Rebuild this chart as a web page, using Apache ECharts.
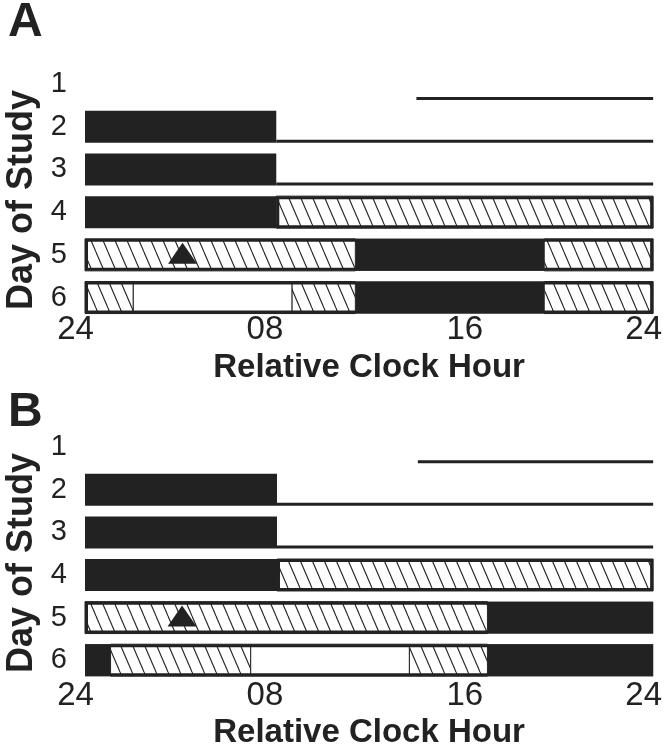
<!DOCTYPE html>
<html><head><meta charset="utf-8">
<script src="https://cdn.jsdelivr.net/npm/echarts@6/dist/echarts.min.js"></script>
<style>html,body{margin:0;padding:0;background:#fff}#c{width:665px;height:750px}</style>
</head><body><div id="c"></div>
<script>
const days = ['1','2','3','4','5','6'];
const hourLabels = ['24','08','16','24'];
const hourTicks = [0, 8, 16, 24];
// Panel A segments: [day, start hour, end hour]
const aSleep = [[2,0,8.08],[3,0,8.08],[4,0,8.08],[5,11.42,19.4],[6,11.42,19.4]];
const aHatch = [[4,8.08,24],[5,0,11.42],[5,19.4,24],[6,0,2.04],[6,8.74,11.42],[6,19.4,24]];
const aWhite = [[6,2.04,8.74]];
const aWake  = [[1,14,24],[2,8.08,24],[3,8.08,24]];
const aBoxed = [[4,8.08,24],[5,0,24],[6,0,24]];
const aMarker = [[5,4.12]];
// Panel B segments
const bSleep = [[2,0,8.11],[3,0,8.11],[4,0,8.11],[5,17,24],[6,0,1.08],[6,17,24]];
const bHatch = [[4,8.11,24],[5,0,17],[6,1.08,7.0],[6,13.7,17]];
const bWhite = [[6,7.0,13.7]];
const bWake  = [[1,14.06,24],[2,8.11,24],[3,8.11,24]];
const bBoxed = [[4,8.11,24],[5,0,24],[6,0,24]];
const bMarker = [[5,4.1]];

const INK = '#222';
const NARROW = "'Liberation Sans Narrow','Arial Narrow','Liberation Sans',Arial,sans-serif";
const BOLD = "'Liberation Sans',Arial,Helvetica,sans-serif";

// hatch pattern tile
const pc = document.createElement('canvas');
pc.width = 12; pc.height = 28;
(function(){
  const ctx = pc.getContext('2d');
  ctx.fillStyle = '#fff'; ctx.fillRect(0,0,12,28);
  ctx.strokeStyle = INK; ctx.lineWidth = 1.1;
  [-12,0,12].forEach(function(x0){
    ctx.beginPath(); ctx.moveTo(x0,0); ctx.lineTo(x0+12,28); ctx.stroke();
  });
})();
const hatchFill = {image: pc, repeat: 'repeat'};

function geom(api){
  const idx = api.value(0);
  const p0 = api.coord([api.value(1), idx]);
  const p1 = api.coord([api.value(2), idx]);
  const band = api.size([0,1])[1];
  const h = band * 0.75;
  return {x: p0[0], y: p0[1] - h/2, w: p1[0] - p0[0], h: h, cy: p0[1]};
}
function rectRender(kind){
  return function(params, api){
    const g = geom(api);
    if (kind === 'sleep') {
      return {type:'rect', shape:{x:g.x, y:g.y, width:g.w, height:g.h}, style:{fill:INK}};
    }
    if (kind === 'hatch') {
      return {type:'rect', shape:{x:g.x, y:g.y, width:g.w, height:g.h}, style:{fill:hatchFill, stroke:INK, lineWidth:1}};
    }
    if (kind === 'white') {
      return {type:'rect', shape:{x:g.x, y:g.y, width:g.w, height:g.h}, style:{fill:'#fff', stroke:INK, lineWidth:1}};
    }
    if (kind === 'wake') {
      const yy = g.y + g.h - 1.5;
      return {type:'line', shape:{x1:g.x, y1:yy, x2:g.x+g.w, y2:yy}, style:{stroke:INK, lineWidth:3}};
    }
    if (kind === 'boxed') {
      return {type:'rect', shape:{x:g.x+1.5, y:g.y+1.5, width:g.w-3, height:g.h-3}, style:{fill:null, stroke:INK, lineWidth:3}};
    }
  };
}
function markerRender(params, api){
  const p = api.coord([api.value(1), api.value(0)]);
  return {type:'polygon', shape:{points:[[p[0], p[1]-12],[p[0]+14.5, p[1]+9],[p[0]-14.5, p[1]+9]]}, style:{fill:INK}};
}
function segSeries(data, kind, gi){
  return {type:'custom', xAxisIndex:gi, yAxisIndex:gi, renderItem:rectRender(kind),
    encode:{x:[1,2], y:0}, silent:true, animation:false,
    data: data.map(function(d){ return [d[0]-1, d[1], d[2]]; })};
}
function markerSeries(data, gi){
  return {type:'custom', xAxisIndex:gi, yAxisIndex:gi, renderItem:markerRender,
    encode:{x:1, y:0}, silent:true, animation:false,
    data: data.map(function(d){ return [d[0]-1, d[1]]; })};
}
function xAxisFor(gi, margin, gap){
  return {gridIndex:gi, type:'value', min:0, max:24, interval:8,
    axisLine:{show:false}, axisTick:{show:false}, splitLine:{show:false},
    axisLabel:{margin:margin, verticalAlign:'middle', showMinLabel:true, showMaxLabel:true,
      formatter:function(v){
        const i = hourTicks.indexOf(v);
        const t = hourLabels[i];
        return v === 16 ? '{c|' + t + '}' : '{s|' + t + '}';
      },
      rich:{
        s:{fontSize:33, fontFamily:NARROW, color:INK, padding:[0,19,0,0]},
        c:{fontSize:33, fontFamily:NARROW, color:INK, padding:[0,0,0,2]}
      }},
    name:'Relative Clock Hour', nameLocation:'middle', nameGap:gap,
    nameTextStyle:{fontSize:33, fontWeight:'bold', fontFamily:BOLD, color:INK, verticalAlign:'middle'}
  };
}
function yAxisFor(gi){
  return {gridIndex:gi, type:'category', data:days, inverse:true,
    axisLine:{show:false}, axisTick:{show:false}, splitLine:{show:false},
    axisLabel:{margin:18, fontSize:29, fontFamily:NARROW, color:INK}};
}

const chart = echarts.init(document.getElementById('c'), null, {renderer:'canvas'});
chart.setOption({
  backgroundColor:'#fff',
  animation:false,
  grid:[
    {left:85, right:11, top:62.7, height:256.2},
    {left:85, right:8, top:425.9, height:256.5}
  ],
  xAxis:[xAxisFor(0, 11, 49), xAxisFor(1, 14, 51)],
  yAxis:[yAxisFor(0), yAxisFor(1)],
  graphic:[
    {type:'text', x:8, y:23, style:{text:'A', font:'bold 48px ' + BOLD, fill:INK, textAlign:'left', textVerticalAlign:'middle'}},
    {type:'text', x:8, y:413, style:{text:'B', font:'bold 48px ' + BOLD, fill:INK, textAlign:'left', textVerticalAlign:'middle'}},
    {type:'text', x:22, y:200, rotation:Math.PI/2, style:{text:'Day of Study', font:'bold 36px ' + BOLD, fill:INK, textAlign:'center', textVerticalAlign:'middle'}},
    {type:'text', x:22, y:563, rotation:Math.PI/2, style:{text:'Day of Study', font:'bold 36px ' + BOLD, fill:INK, textAlign:'center', textVerticalAlign:'middle'}}
  ],
  series:[
    segSeries(aSleep,'sleep',0), segSeries(aHatch,'hatch',0), segSeries(aWhite,'white',0),
    segSeries(aWake,'wake',0), segSeries(aBoxed,'boxed',0), markerSeries(aMarker,0),
    segSeries(bSleep,'sleep',1), segSeries(bHatch,'hatch',1), segSeries(bWhite,'white',1),
    segSeries(bWake,'wake',1), segSeries(bBoxed,'boxed',1), markerSeries(bMarker,1)
  ]
});
</script>
</body></html>
